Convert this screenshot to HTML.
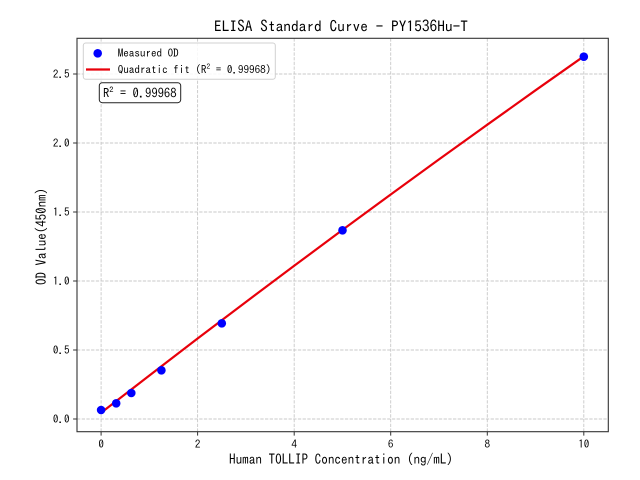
<!DOCTYPE html>
<html>
<head>
<meta charset="utf-8">
<style>
html,body{margin:0;padding:0;background:#fff;}
svg{display:block;}
text{font-family:"IPAGothic","Liberation Mono","Noto Sans CJK SC",monospace;fill:#000;}
</style>
</head>
<body>
<svg width="640" height="480" viewBox="0 0 640 480" xmlns="http://www.w3.org/2000/svg">
<rect x="0" y="0" width="640" height="480" fill="#fff"/>
<!-- grid -->
<g stroke="#c8c8c8" stroke-width="0.9" stroke-dasharray="3.3,1.4" fill="none">
<line x1="101.1" y1="38.3" x2="101.1" y2="431.7"/>
<line x1="197.6" y1="38.3" x2="197.6" y2="431.7"/>
<line x1="294.2" y1="38.3" x2="294.2" y2="431.7"/>
<line x1="390.7" y1="38.3" x2="390.7" y2="431.7"/>
<line x1="487.3" y1="38.3" x2="487.3" y2="431.7"/>
<line x1="583.8" y1="38.3" x2="583.8" y2="431.7"/>
<line x1="77" y1="419" x2="608.3" y2="419"/>
<line x1="77" y1="350" x2="608.3" y2="350"/>
<line x1="77" y1="281" x2="608.3" y2="281"/>
<line x1="77" y1="212" x2="608.3" y2="212"/>
<line x1="77" y1="143" x2="608.3" y2="143"/>
<line x1="77" y1="74" x2="608.3" y2="74"/>
</g>
<!-- fit line -->
<polyline fill="none" stroke="#e8000b" stroke-width="2.2" stroke-linejoin="round" points="101.1,412.8 149.4,375.5 197.6,338.5 245.9,302.0 294.2,265.8 342.5,229.9 390.7,194.5 439.0,159.4 487.3,124.7 535.5,90.3 583.8,56.3"/>
<!-- points -->
<g fill="#0000ff">
<circle cx="101.1" cy="410" r="4.3"/>
<circle cx="116.2" cy="403.3" r="4.3"/>
<circle cx="131.3" cy="393" r="4.3"/>
<circle cx="161.4" cy="370.3" r="4.3"/>
<circle cx="221.8" cy="323.3" r="4.3"/>
<circle cx="342.5" cy="230.3" r="4.3"/>
<circle cx="583.8" cy="56.7" r="4.3"/>
</g>
<!-- axes frame -->
<rect x="77" y="38.3" width="531.3" height="393.4" fill="none" stroke="#333" stroke-width="1.1"/>
<!-- ticks -->
<g stroke="#333" stroke-width="1">
<line x1="101.1" y1="431.7" x2="101.1" y2="435.6"/>
<line x1="197.6" y1="431.7" x2="197.6" y2="435.6"/>
<line x1="294.2" y1="431.7" x2="294.2" y2="435.6"/>
<line x1="390.7" y1="431.7" x2="390.7" y2="435.6"/>
<line x1="487.3" y1="431.7" x2="487.3" y2="435.6"/>
<line x1="583.8" y1="431.7" x2="583.8" y2="435.6"/>
<line x1="73.1" y1="419" x2="77" y2="419"/>
<line x1="73.1" y1="350" x2="77" y2="350"/>
<line x1="73.1" y1="281" x2="77" y2="281"/>
<line x1="73.1" y1="212" x2="77" y2="212"/>
<line x1="73.1" y1="143" x2="77" y2="143"/>
<line x1="73.1" y1="74" x2="77" y2="74"/>
</g>
<!-- tick labels -->
<g font-size="11.1" text-anchor="middle">
<text x="101.1" y="448">0</text>
<text x="197.6" y="448">2</text>
<text x="294.2" y="448">4</text>
<text x="390.7" y="448">6</text>
<text x="487.3" y="448">8</text>
<text x="583.8" y="448">10</text>
</g>
<g font-size="11.1" text-anchor="end">
<text x="69.5" y="423">0.0</text>
<text x="69.5" y="354">0.5</text>
<text x="69.5" y="285">1.0</text>
<text x="69.5" y="216">1.5</text>
<text x="69.5" y="147">2.0</text>
<text x="69.5" y="78">2.5</text>
</g>
<!-- axis labels -->
<text x="341" y="464" font-size="13.3" text-anchor="middle" textLength="224" lengthAdjust="spacingAndGlyphs">Human TOLLIP Concentration (ng/mL)</text>
<text transform="translate(46,236.5) rotate(-90)" x="0" y="0" font-size="13.3" text-anchor="middle" textLength="97" lengthAdjust="spacingAndGlyphs">OD Value(450nm)</text>
<!-- title -->
<text x="341" y="32" font-size="15.5" text-anchor="middle" textLength="254" lengthAdjust="spacingAndGlyphs">ELISA Standard Curve - PY1536Hu-T</text>
<!-- legend -->
<rect x="83.3" y="43" width="192" height="36.3" rx="2.5" ry="2.5" fill="#fff" fill-opacity="0.85" stroke="#d0d0d0" stroke-width="1"/>
<circle cx="97.7" cy="53.3" r="4.3" fill="#0000ff"/>
<line x1="86" y1="69.5" x2="110" y2="69.5" stroke="#e8000b" stroke-width="2.2"/>
<text x="117.7" y="57.2" font-size="11.1">Measured OD</text>
<text x="117.7" y="73.6" font-size="11.1">Quadratic fit (R<tspan font-size="7.5" dy="-4.5">2</tspan><tspan dy="4.5"> = 0.99968)</tspan></text>
<!-- R2 box -->
<rect x="99.3" y="82.7" width="81.4" height="20" rx="3" ry="3" fill="#fff" stroke="#222" stroke-width="1"/>
<text x="103" y="97.3" font-size="12.6">R<tspan font-size="8.5" dy="-5">2</tspan><tspan dy="5"> = 0.99968</tspan></text>
</svg>
</body>
</html>
